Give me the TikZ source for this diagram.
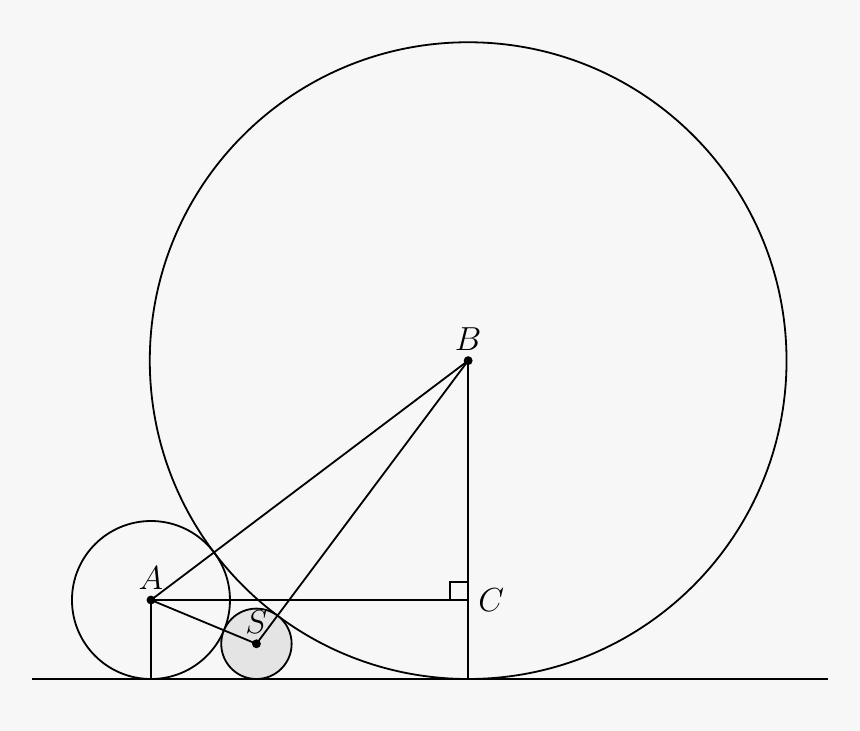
\documentclass[tikz,border=0pt]{standalone}
\usepackage{tikz}
\definecolor{bgray}{HTML}{F7F7F7}
\definecolor{sgray}{HTML}{E4E4E4}
\tikzset{pt/.style={circle,fill=black,inner sep=0pt,minimum size=3.2pt}}
\begin{document}
\begin{tikzpicture}[scale=1,line width=0.65pt]
\fill[bgray] (-1.911,-0.658) rectangle (8.975,8.595);
\useasboundingbox (-1.911,-0.658) rectangle (8.975,8.595);
\coordinate (gl) at (-1.506,0);
\coordinate (gr) at (8.57,0);
\coordinate (fa) at (0,0);
\coordinate (fc) at (4.015,0);
\node[pt] (A) at (0,1) {};
\node[pt] (B) at (4.015,4.03) {};
\node[pt,opacity=0] (C) at (4.015,1) {};
\node[pt] (S) at (1.335,0.4456) {};
\draw (gl) -- (gr);
\draw (A.center) circle (1);
\draw (B.center) circle (4.03);
\draw[fill=sgray] (S.center) circle (0.4456);
\node[pt] at (S) {};
\draw (A.center) -- (B.center);
\draw (A.center) -- (C.center);
\draw (B.center) -- (fc);
\draw (A.center) -- (fa);
\draw (A.center) -- (S.center) -- (B.center);
\draw (C.center) ++(-0.23,0) |- ++(0.23,0.23);
\node[above] at (A) {\large $A$};
\node[above] at (B) {\large $B$};
\node[above] at (S) {\large $S$};
\node[right] at (C) {\large $C$};
\end{tikzpicture}
\end{document}
